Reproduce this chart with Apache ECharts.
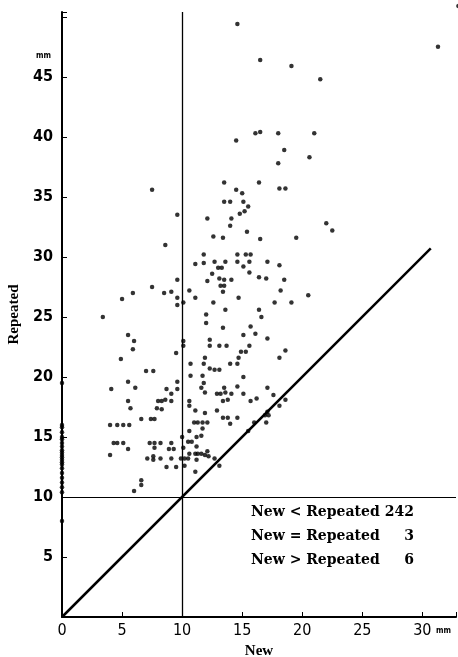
<!DOCTYPE html>
<html>
<head>
<meta charset="utf-8">
<script src="https://cdn.jsdelivr.net/npm/echarts@6/dist/echarts.min.js"></script>
<style>
  html, body { margin: 0; padding: 0; background: #fff; }
  #chart { width: 458px; height: 657px; }
</style>
</head>
<body>
<div id="chart"></div>
<script>
// New vs Repeated (mm), one point per case
const points = [
  [33.0, 50.9], [31.3, 47.5], [14.6, 49.4], [16.5, 46.4], [19.1, 45.9], [21.5, 44.8],
  [16.1, 40.3], [16.5, 40.4], [18.0, 40.3], [21.0, 40.3], [14.5, 39.7], [18.5, 38.9],
  [20.6, 38.3], [18.0, 37.8], [7.5, 35.6], [13.5, 36.2], [16.4, 36.2], [14.5, 35.6],
  [15.0, 35.3], [18.1, 35.7], [18.6, 35.7], [9.6, 33.5], [12.1, 33.2], [13.5, 34.6],
  [14.0, 34.6], [15.1, 34.6], [15.5, 34.2], [15.2, 33.8], [14.8, 33.6], [14.1, 33.2],
  [14.0, 32.6], [22.0, 32.8], [22.5, 32.2], [15.4, 32.1], [12.6, 31.7], [13.4, 31.6],
  [16.5, 31.5], [19.5, 31.6], [8.6, 31.0], [11.1, 29.4], [11.8, 30.2], [14.6, 30.2],
  [15.3, 30.2], [15.7, 30.2], [11.8, 29.5], [12.7, 29.6], [13.6, 29.6], [14.6, 29.6],
  [15.6, 29.6], [17.1, 29.6], [13.0, 29.1], [13.3, 29.1], [15.1, 29.2], [18.1, 29.3],
  [12.5, 28.6], [15.6, 28.7], [13.1, 28.2], [13.5, 28.1], [14.1, 28.1], [12.1, 28.0],
  [16.4, 28.3], [17.0, 28.2], [18.5, 28.1], [13.2, 27.6], [13.5, 27.6], [13.4, 27.1],
  [9.6, 28.1], [7.5, 27.5], [8.5, 27.0], [9.1, 27.1], [5.9, 27.0], [5.0, 26.5],
  [9.6, 26.6], [9.6, 26.0], [10.1, 26.2], [10.6, 27.2], [11.1, 26.6], [12.6, 26.2],
  [3.4, 25.0], [12.0, 25.2], [12.0, 24.5], [13.6, 25.6], [13.4, 24.1], [20.5, 26.8],
  [17.7, 26.2], [19.1, 26.2], [18.2, 27.2], [14.7, 26.6], [16.4, 25.6], [16.6, 25.0],
  [15.7, 24.2], [15.1, 23.5], [16.1, 23.6], [17.1, 23.2], [10.1, 23.0], [10.1, 22.6],
  [12.3, 23.1], [12.3, 22.6], [13.1, 22.6], [13.7, 22.6], [15.6, 22.6], [14.9, 22.1],
  [15.3, 22.1], [14.7, 21.6], [11.9, 21.6], [10.7, 21.1], [11.8, 21.1], [14.0, 21.1],
  [14.6, 21.1], [12.3, 20.7], [12.7, 20.6], [13.1, 20.6], [10.7, 20.1], [11.7, 20.1],
  [15.1, 20.0], [11.8, 19.5], [11.6, 19.1], [13.5, 19.1], [14.6, 19.2], [17.1, 19.1],
  [18.6, 22.2], [18.1, 21.6], [17.6, 18.5], [18.6, 18.1], [18.1, 17.6], [16.9, 16.8],
  [17.2, 16.8], [17.0, 16.2], [17.1, 17.1], [11.9, 18.7], [12.9, 18.6], [13.2, 18.6],
  [13.6, 18.7], [14.1, 18.6], [15.1, 18.6], [16.2, 18.2], [15.7, 18.0], [13.8, 18.1],
  [13.4, 18.0], [10.6, 18.0], [10.6, 17.6], [11.1, 17.2], [11.9, 17.0], [12.9, 17.2],
  [13.4, 16.6], [13.8, 16.6], [14.0, 16.1], [14.6, 16.6], [11.0, 16.2], [11.3, 16.2],
  [11.7, 16.2], [12.1, 16.2], [11.7, 15.7], [10.6, 15.5], [11.6, 15.1], [11.2, 15.0],
  [15.5, 15.5], [16.0, 16.2], [10.5, 14.6], [10.8, 14.6], [11.2, 14.2], [11.1, 13.6],
  [11.3, 13.6], [11.6, 13.6], [11.9, 13.5], [12.1, 13.8], [12.2, 13.4], [12.7, 13.2],
  [11.2, 13.1], [13.1, 12.6], [11.1, 12.1], [10.2, 13.2], [10.2, 12.6], [4.1, 19.0],
  [6.1, 19.1], [8.7, 19.0], [9.1, 18.6], [9.6, 19.0], [5.5, 18.0], [8.0, 18.0],
  [8.3, 18.0], [8.6, 18.1], [9.1, 18.0], [5.7, 17.4], [7.9, 17.4], [8.3, 17.3],
  [6.6, 16.5], [7.4, 16.5], [7.7, 16.5], [4.0, 16.0], [4.6, 16.0], [5.1, 16.0],
  [5.6, 16.0], [10.0, 15.0], [4.3, 14.5], [4.6, 14.5], [5.1, 14.5], [5.5, 14.0],
  [7.3, 14.5], [7.7, 14.5], [8.2, 14.5], [7.7, 14.1], [9.1, 14.5], [8.9, 14.0],
  [9.3, 14.0], [10.1, 14.1], [10.6, 13.6], [4.0, 13.5], [7.1, 13.2], [7.6, 13.4],
  [7.6, 13.1], [8.2, 13.2], [9.1, 13.2], [9.9, 13.2], [10.5, 13.2], [8.7, 12.5],
  [9.5, 12.5], [6.6, 11.4], [6.6, 11.0], [6.0, 10.5], [5.5, 23.5], [6.0, 23.0],
  [5.9, 22.3], [9.5, 22.0], [4.9, 21.5], [7.0, 20.5], [7.6, 20.5], [5.5, 19.6],
  [9.6, 19.6]
];
// cases where New = 0
const repeatedAtZero = [19.5, 16.0, 15.8, 15.4, 15.0, 14.8, 14.5, 14.2, 13.9, 13.7, 13.5,
  13.3, 13.1, 12.9, 12.7, 12.4, 12.0, 11.6, 11.2, 10.8, 10.4, 8.0];

const countLabels = ['New < Repeated', 'New = Repeated', 'New > Repeated'];
const countValues = [242, 3, 6];

const chart = echarts.init(document.getElementById('chart'));

const numFont = '"Liberation Sans Narrow", "DejaVu Sans Condensed", "Liberation Sans", sans-serif';
const serifFont = '"DejaVu Serif", "Liberation Serif", serif';

const data = points.concat(repeatedAtZero.map(y => [0, y]));

const legendText = [];
countLabels.forEach((t, i) => {
  legendText.push({
    type: 'text', left: 251, top: 505 + i * 24,
    style: { text: t, font: 'bold 14px ' + serifFont, fill: '#000' }
  });
  legendText.push({
    type: 'text', right: 458 - 414, top: 505 + i * 24,
    style: { text: String(countValues[i]), font: 'bold 14px ' + serifFont, fill: '#000', align: 'right' }
  });
});

chart.setOption({
  animation: false,
  backgroundColor: '#fff',
  grid: { left: 62, right: 2, top: 12, bottom: 40, outerBoundsMode: 'none' },
  xAxis: {
    type: 'value', min: 0, max: 32.8, interval: 5,
    name: 'New', nameLocation: 'middle', nameGap: 27,
    nameTextStyle: { fontFamily: '"Liberation Serif", serif', fontSize: 15, fontWeight: 'bold', color: '#000' },
    axisLine: { lineStyle: { color: '#000', width: 2 } },
    axisTick: { inside: true, length: 5, lineStyle: { color: '#000' } },
    axisLabel: {
      color: '#000', fontSize: 16, fontFamily: numFont, margin: 6,
      formatter: v => (v <= 30 ? String(v) : '')
    },
    splitLine: { show: false }
  },
  yAxis: {
    type: 'value', min: 0, max: 50.4, interval: 5,
    name: 'Repeated', nameLocation: 'middle', nameGap: 38, nameRotate: 90,
    nameTextStyle: { fontFamily: '"Liberation Serif", serif', fontSize: 15, fontWeight: 'bold', color: '#000' },
    axisLine: { lineStyle: { color: '#000', width: 2 } },
    axisTick: { inside: true, length: 5, lineStyle: { color: '#000' } },
    axisLabel: {
      color: '#000', fontSize: 16, fontWeight: 'bold', fontFamily: numFont, margin: 9,
      formatter: v => (v > 0 && v < 50 ? String(v) : '')
    },
    splitLine: { show: false }
  },
  graphic: [
    { type: 'text', left: 36, top: 52, style: { text: 'mm', font: 'bold 8px ' + numFont, fill: '#000' } },
    { type: 'text', left: 436, top: 627, style: { text: 'mm', font: 'bold 8px ' + numFont, fill: '#000' } }
  ].concat(legendText),
  series: [{
    type: 'scatter',
    data: data,
    symbolSize: 4.5,
    clip: false,
    silent: true,
    itemStyle: { color: '#000' },
    markLine: {
      silent: true,
      symbol: ['none', 'none'],
      label: { show: false },
      lineStyle: { color: '#000', type: 'solid' },
      data: [
        [{ coord: [10, 0], lineStyle: { width: 1.3, color: '#000', type: 'solid' } }, { coord: [10, 50.4] }],
        [{ coord: [0, 10], lineStyle: { width: 1, color: '#000', type: 'solid' } }, { coord: [32.8, 10] }],
        [{ coord: [0, 0], lineStyle: { width: 2.5, color: '#000', type: 'solid' } }, { coord: [30.7, 30.7] }]
      ]
    }
  }]
});
</script>
</body>
</html>
